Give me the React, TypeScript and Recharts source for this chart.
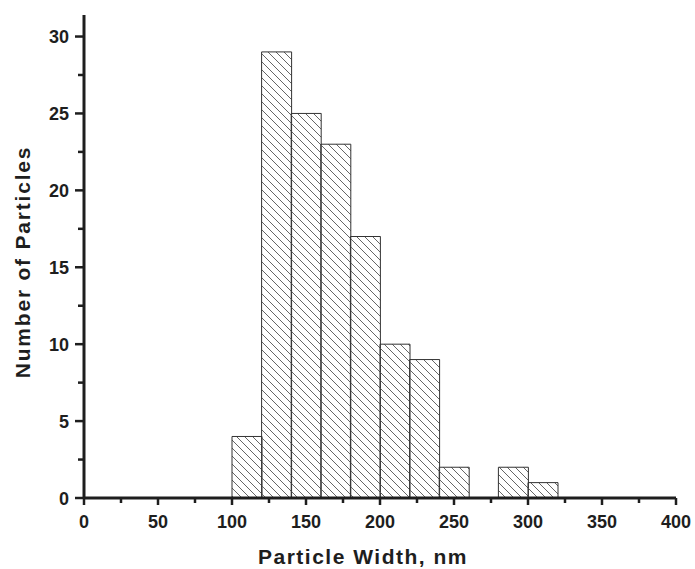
import React from 'react';
import { BarChart, Bar, XAxis, YAxis } from 'recharts';

// histogram bins (nm), bin width 20
const BIN_STARTS: number[] = [100, 120, 140, 160, 180, 200, 220, 240, 260, 280, 300];
const COUNTS: number[] = [4, 29, 25, 23, 17, 10, 9, 2, 0, 2, 1];
const BIN_WIDTH = 20;

const X_TICKS: number[] = [0, 25, 50, 75, 100, 125, 150, 175, 200, 225, 250, 275, 300, 325, 350, 375, 400];
const Y_TICKS: number[] = [0, 2.5, 5, 7.5, 10, 12.5, 15, 17.5, 20, 22.5, 25, 27.5, 30];

const W = 695;
const H = 569;
const MARGIN = { top: 15, right: 19, bottom: 0, left: 0 };
const Y_AXIS_W = 84;
const X_AXIS_H = 71;

const FONT = '"Liberation Sans", Arial, sans-serif';
const INK = '#1e1e1e';

const data = BIN_STARTS.map((start, i) => ({
  mid: start + BIN_WIDTH / 2,
  count: COUNTS[i],
}));

const XTick = (props: any) => {
  const { x, y, payload } = props;
  const major = payload.value % 50 === 0;
  return (
    <g>
      <line x1={x} y1={y} x2={x} y2={y + (major ? 7 : 5)} stroke={INK} strokeWidth={2.5} />
      {major && (
        <text x={x} y={y + 30} textAnchor="middle" fontFamily={FONT} fontWeight="bold" fontSize={18} fill={INK}>
          {payload.value}
        </text>
      )}
    </g>
  );
};

const YTick = (props: any) => {
  const { x, y, payload } = props;
  const major = payload.value % 5 === 0;
  return (
    <g>
      <line x1={x - (major ? 9 : 6)} y1={y} x2={x} y2={y} stroke={INK} strokeWidth={2.5} />
      {major && (
        <text x={x - 15} y={y + 6.5} textAnchor="end" fontFamily={FONT} fontWeight="bold" fontSize={18} fill={INK}>
          {payload.value}
        </text>
      )}
    </g>
  );
};

const App: React.FC = () => {
  return (
    <div style={{ position: 'absolute', left: 0, top: 0, background: '#fff' }}>
      <BarChart width={W} height={H} data={data} margin={MARGIN} barCategoryGap={0} barGap={0}>
        <defs>
          <pattern id="hatch" patternUnits="userSpaceOnUse" width={8} height={8}>
            <path d="M0,0 L8,8 M-1,7 L1,9 M7,-1 L9,1" stroke="#666" strokeWidth={1} />
          </pattern>
        </defs>
        <XAxis
          type="number"
          dataKey="mid"
          domain={[0, 400]}
          ticks={X_TICKS}
          interval={0}
          height={X_AXIS_H}
          tickSize={0}
          tickMargin={0}
          tickLine={false}
          tick={<XTick />}
          axisLine={{ stroke: INK, strokeWidth: 3 }}
          label={{
            content: () => (
              <text x={363} y={564} textAnchor="middle" fontFamily={FONT} fontWeight="bold" fontSize={21} letterSpacing={1.5} fill={INK}>
                Particle Width, nm
              </text>
            ),
          }}
        />
        <YAxis
          type="number"
          domain={[0, 31.4]}
          ticks={Y_TICKS}
          interval={0}
          width={Y_AXIS_W}
          tickSize={0}
          tickMargin={0}
          tickLine={false}
          tick={<YTick />}
          axisLine={{ stroke: INK, strokeWidth: 3 }}
          label={{
            content: () => (
              <text
                x={30}
                y={262}
                transform="rotate(-90, 30, 262)"
                textAnchor="middle"
                fontFamily={FONT}
                fontWeight="bold"
                fontSize={21}
                letterSpacing={1.8}
                fill={INK}
              >
                Number of Particles
              </text>
            ),
          }}
        />
        <Bar
          dataKey="count"
          fill="url(#hatch)"
          stroke="#333"
          strokeWidth={1}
          isAnimationActive={false}
        />
      </BarChart>
    </div>
  );
};

export default App;
